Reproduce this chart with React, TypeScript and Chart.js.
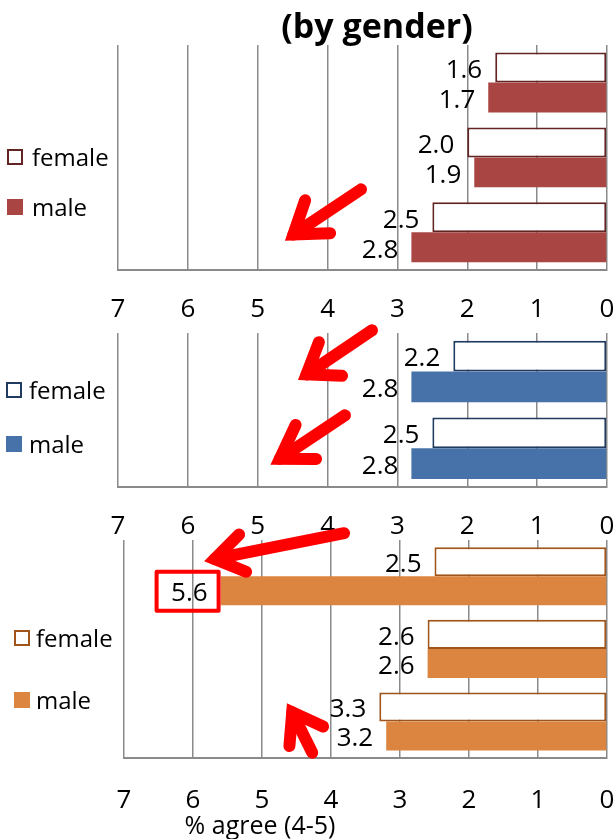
import React, { useEffect, useRef } from "react";
import { Chart, registerables } from "chart.js";

Chart.register(...registerables);

// ---------- data ----------
const SERIES = ["female", "male"];
const X_MIN = 0;
const X_MAX = 7;
const X_STEP = 1;

const P1_CATS = ["item 1", "item 2", "item 3"];
const P1_FEMALE = [1.6, 2.0, 2.5];
const P1_MALE = [1.7, 1.9, 2.8];

const P2_CATS = ["item 1", "item 2"];
const P2_FEMALE = [2.2, 2.5];
const P2_MALE = [2.8, 2.8];

const P3_CATS = ["item 1", "item 2", "item 3"];
const P3_FEMALE = [2.5, 2.6, 3.3];
const P3_MALE = [5.6, 2.6, 3.2];

const TITLE = "(by gender)";
const X_TITLE = "% agree (4-5)";

// ---------- styles ----------
const FONT = "'Open Sans', 'DejaVu Sans', sans-serif";
const GRID = "#8a8a8a";
const RED = "#ff0000";
const TICK_SIZE = 26;
const LABEL_SIZE = 26;

type Arrow = { tip: number[]; tail: number[]; arm1: number[]; arm2: number[] };

type PanelCfg = {
  cats: string[];
  female: number[];
  male: number[];
  fill: string;
  edge: string;
  top: number; // canvas top on page
  height: number;
  pad: { left: number; right: number; top: number; bottom: number };
  tickGap: number;
  legend: { box: number; text: number; ys: number[] };
  arrows: Arrow[];
  highlight?: { dataset: number; index: number };
};

const PANELS: PanelCfg[] = [
  {
    cats: P1_CATS,
    female: P1_FEMALE,
    male: P1_MALE,
    fill: "#a94644",
    edge: "#632523",
    top: 0,
    height: 335,
    pad: { left: 118, right: 9, top: 45, bottom: 10 },
    tickGap: 24,
    legend: { box: 7, text: 32, ys: [157, 207] },
    arrows: [{ tip: [282, 243], tail: [366, 186], arm1: [308, 195], arm2: [336, 232] }],
  },
  {
    cats: P2_CATS,
    female: P2_FEMALE,
    male: P2_MALE,
    fill: "#4672a9",
    edge: "#1f3b60",
    top: 318,
    height: 230,
    pad: { left: 118, right: 9, top: 15, bottom: 6 },
    tickGap: 24,
    legend: { box: 6, text: 29, ys: [390, 444] },
    arrows: [
      { tip: [295, 382], tail: [377, 327], arm1: [322, 337], arm2: [348, 375] },
      { tip: [267, 467], tail: [350, 412], arm1: [299, 420], arm2: [322, 458] },
    ],
  },
  {
    cats: P3_CATS,
    female: P3_FEMALE,
    male: P3_MALE,
    fill: "#dc8540",
    edge: "#a0541a",
    top: 525,
    height: 314,
    pad: { left: 124, right: 9, top: 15, bottom: 23 },
    tickGap: 27,
    legend: { box: 14, text: 36, ys: [638, 700] },
    arrows: [
      { tip: [200, 562], tail: [350, 532], arm1: [244, 531], arm2: [252, 573] },
      { tip: [285, 700], tail: [315, 758], arm1: [290, 752], arm2: [328, 730] },
    ],
    highlight: { dataset: 1, index: 0 },
  },
];

// ---------- helpers ----------
function norm(x: number, y: number) {
  const l = Math.hypot(x, y) || 1;
  return [x / l, y / l];
}

function drawArrow(ctx: CanvasRenderingContext2D, a: Arrow, offY: number) {
  const w = 12;
  const tip = [a.tip[0], a.tip[1] - offY];
  const tail = [a.tail[0], a.tail[1] - offY];
  const arm1 = [a.arm1[0], a.arm1[1] - offY];
  const arm2 = [a.arm2[0], a.arm2[1] - offY];
  const u1 = norm(arm1[0] - tip[0], arm1[1] - tip[1]);
  const u2 = norm(arm2[0] - tip[0], arm2[1] - tip[1]);
  const bis = norm(u1[0] + u2[0], u1[1] + u2[1]);
  const half = Math.acos(Math.max(-1, Math.min(1, u1[0] * u2[0] + u1[1] * u2[1]))) / 2;
  const inset = w / 2 / Math.sin(half);
  const v = [tip[0] + bis[0] * inset, tip[1] + bis[1] * inset];
  const a1 = [arm1[0] - u1[0] * (w / 2), arm1[1] - u1[1] * (w / 2)];
  const a2 = [arm2[0] - u2[0] * (w / 2), arm2[1] - u2[1] * (w / 2)];
  const ut = norm(tail[0] - tip[0], tail[1] - tip[1]);
  const t = [tail[0] - ut[0] * (w / 2), tail[1] - ut[1] * (w / 2)];
  ctx.save();
  ctx.strokeStyle = RED;
  ctx.lineWidth = w;
  ctx.lineCap = "round";
  ctx.lineJoin = "miter";
  ctx.miterLimit = 10;
  ctx.beginPath();
  ctx.moveTo(v[0], v[1]);
  ctx.lineTo(t[0], t[1]);
  ctx.stroke();
  ctx.beginPath();
  ctx.moveTo(a1[0], a1[1]);
  ctx.lineTo(v[0], v[1]);
  ctx.lineTo(a2[0], a2[1]);
  ctx.stroke();
  ctx.restore();
}

const valueLabels = {
  id: "valueLabels",
  afterDatasetsDraw(chart: any) {
    const ctx = chart.ctx as CanvasRenderingContext2D;
    ctx.save();
    ctx.font = `${LABEL_SIZE}px ${FONT}`;
    ctx.fillStyle = "#000";
    ctx.textAlign = "right";
    ctx.textBaseline = "middle";
    chart.data.datasets.forEach((ds: any, di: number) => {
      const meta = chart.getDatasetMeta(di);
      meta.data.forEach((el: any, i: number) => {
        ctx.fillText(Number(ds.data[i]).toFixed(1), el.x - 13, el.y + 3);
      });
    });
    ctx.restore();
  },
};

const annotations = {
  id: "annotations",
  afterDraw(chart: any, _args: any, opts: any) {
    const ctx = chart.ctx as CanvasRenderingContext2D;
    const cfg: PanelCfg = opts.cfg;
    if (cfg.highlight) {
      const el = chart.getDatasetMeta(cfg.highlight.dataset).data[cfg.highlight.index];
      ctx.save();
      ctx.strokeStyle = RED;
      ctx.lineWidth = 4;
      ctx.lineJoin = "round";
      ctx.strokeRect(el.x - 64, el.y - 19, 62, 39);
      ctx.restore();
    }
    cfg.arrows.forEach((a) => drawArrow(ctx, a, cfg.top));
  },
};

function Panel({ cfg }: { cfg: PanelCfg }) {
  const ref = useRef<HTMLCanvasElement | null>(null);
  useEffect(() => {
    if (!ref.current) return;
    const chart = new Chart(ref.current, {
      type: "bar",
      data: {
        labels: cfg.cats,
        datasets: [
          {
            label: SERIES[0],
            data: cfg.female,
            backgroundColor: "#ffffff",
            borderColor: cfg.edge,
            borderWidth: 2,
            borderSkipped: false,
          },
          {
            label: SERIES[1],
            data: cfg.male,
            backgroundColor: cfg.fill,
            borderWidth: 0,
          },
        ],
      },
      options: {
        indexAxis: "y",
        animation: false,
        responsive: false,
        maintainAspectRatio: false,
        layout: { padding: cfg.pad },
        datasets: { bar: { categoryPercentage: 0.8, barPercentage: 1.0 } },
        plugins: {
          legend: { display: false },
          tooltip: { enabled: false },
          title: { display: false },
          annotations: { cfg },
        } as any,
        scales: {
          x: {
            reverse: true,
            min: X_MIN,
            max: X_MAX,
            ticks: {
              stepSize: X_STEP,
              color: "#000",
              padding: 0,
              font: { family: FONT, size: TICK_SIZE },
              maxRotation: 0,
            },
            grid: {
              color: GRID,
              lineWidth: 1.5,
              drawTicks: true,
              tickLength: cfg.tickGap,
              tickColor: "rgba(0,0,0,0)",
            },
            border: { color: GRID, width: 2 },
          },
          y: { display: false },
        },
      } as any,
      plugins: [valueLabels, annotations],
    });
    return () => chart.destroy();
  }, [cfg]);
  return (
    <canvas
      ref={ref}
      width={616}
      height={cfg.height}
      style={{ position: "absolute", left: 0, top: cfg.top, width: 616, height: cfg.height }}
    />
  );
}

function Legend({ cfg }: { cfg: PanelCfg }) {
  return (
    <>
      {SERIES.map((s, i) => (
        <div
          key={s}
          style={{
            position: "absolute",
            left: cfg.legend.box,
            top: cfg.legend.ys[i] - 15,
            height: 30,
            display: "flex",
            alignItems: "center",
            fontFamily: FONT,
            fontSize: 24,
            color: "#000",
            whiteSpace: "nowrap",
          }}
        >
          <span
            style={{
              display: "inline-block",
              boxSizing: "border-box",
              width: 16,
              height: 16,
              background: i === 0 ? "#fff" : cfg.fill,
              border: i === 0 ? `2px solid ${cfg.edge}` : "none",
              marginRight: cfg.legend.text - cfg.legend.box - 16,
            }}
          />
          <span style={{ lineHeight: "30px" }}>{s}</span>
        </div>
      ))}
    </>
  );
}

export default function App() {
  return (
    <div
      style={{
        position: "absolute",
        left: 0,
        top: 0,
        width: 616,
        height: 839,
        background: "#fff",
        overflow: "hidden",
      }}
    >
      {PANELS.map((p, i) => (
        <Panel key={i} cfg={p} />
      ))}
      {PANELS.map((p, i) => (
        <Legend key={"l" + i} cfg={p} />
      ))}
      <div
        style={{
          position: "absolute",
          left: 177,
          width: 400,
          top: 8,
          textAlign: "center",
          fontFamily: FONT,
          fontWeight: "bold",
          fontSize: 34,
          lineHeight: 1,
          color: "#000",
        }}
      >
        {TITLE}
      </div>
      <div
        style={{
          position: "absolute",
          left: 60,
          width: 400,
          top: 812,
          textAlign: "center",
          fontFamily: FONT,
          fontSize: 25,
          lineHeight: 1,
          color: "#000",
        }}
      >
        {X_TITLE}
      </div>
    </div>
  );
}
